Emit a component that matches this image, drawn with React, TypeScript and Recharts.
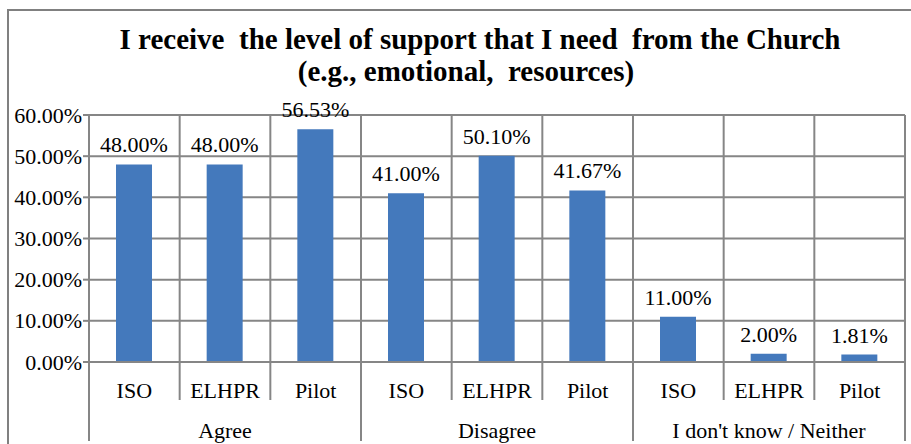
import React from "react";
import { BarChart, Bar, XAxis, YAxis, CartesianGrid, LabelList } from "recharts";

const groups = ["Agree", "Disagree", "I don't know / Neither"];
const sources = ["ISO", "ELHPR", "Pilot"];
const agreeValues = [48.0, 48.0, 56.53];
const disagreeValues = [41.0, 50.1, 41.67];
const neitherValues = [11.0, 2.0, 1.81];
const yTicks = [0, 10, 20, 30, 40, 50, 60];

const groupValues = [agreeValues, disagreeValues, neitherValues];
const data = groups.flatMap((g, gi) =>
  sources.map((s, si) => ({ key: `${g}-${s}`, source: s, group: g, value: groupValues[gi][si], gi, si }))
);

const W = 911;
const H = 444;
const MARGIN = { top: 115, right: 6, left: 0, bottom: 0 };
const Y_AXIS_W = 89;
const X_AXIS_H = 82;
const PLOT_W = W - MARGIN.left - MARGIN.right - Y_AXIS_W;
const BAND = PLOT_W / data.length;

const GRID = "#868686";
const FONT = "Liberation Serif";
const TXT = { fontFamily: FONT, fontSize: 22, fill: "#000" };

const CategoryTick = (props: any) => {
  const { x, y, index } = props;
  const d = data[index];
  if (!d) return null;
  const left = x - BAND / 2;
  const right = x + BAND / 2;
  const isGroupStart = d.si === 0;
  const isLast = index === data.length - 1;
  return (
    <g>
      <line x1={left} y1={y} x2={left} y2={isGroupStart ? y + 79 : y + 38} stroke={GRID} strokeWidth={2} />
      {isLast && <line x1={right} y1={y} x2={right} y2={y + 79} stroke={GRID} strokeWidth={2} />}
      <text x={x} y={y + 28} textAnchor="middle" dominantBaseline="central" style={TXT}>
        {d.source}
      </text>
      {d.si === 1 && (
        <text x={x} y={y + 68} textAnchor="middle" dominantBaseline="central" style={TXT}>
          {d.group}
        </text>
      )}
    </g>
  );
};

const YTick = (props: any) => {
  const { x, y, payload } = props;
  return (
    <text x={x} y={y} textAnchor="end" dominantBaseline="central" style={TXT}>
      {`${Number(payload.value).toFixed(2)}%`}
    </text>
  );
};

const ValueLabel = (props: any) => {
  const { x, y, width, value } = props;
  return (
    <text x={x + width / 2} y={y - 12} textAnchor="middle" style={TXT}>
      {`${Number(value).toFixed(2)}%`}
    </text>
  );
};

export default function App() {
  return (
    <div style={{ position: "absolute", left: 0, top: 0, width: W, height: H, background: "#fff", overflow: "hidden" }}>
      <div
        style={{
          position: "absolute",
          left: 7,
          top: 9,
          width: W + 20,
          height: H + 20,
          border: "2px solid #808080",
          boxSizing: "border-box",
        }}
      />
      <div
        style={{
          position: "absolute",
          left: 0,
          top: 23,
          width: 960,
          textAlign: "center",
          fontFamily: FONT,
          fontWeight: "bold",
          fontSize: 29,
          lineHeight: "32px",
          color: "#000",
        }}
      >
        <div>I receive&nbsp; the level of support that I need&nbsp; from the Church</div>
        <div style={{ paddingRight: 28 }}>(e.g., emotional,&nbsp; resources)</div>
      </div>
      <div style={{ position: "absolute", left: 0, top: 0 }}>
        <BarChart width={W} height={H} data={data} margin={MARGIN} barCategoryGap={0}>
          <CartesianGrid
            stroke={GRID}
            strokeWidth={2}
            verticalCoordinatesGenerator={({ offset }: any) =>
              Array.from({ length: data.length + 1 }, (_, i) => offset.left + (i * offset.width) / data.length)
            }
          />
          <XAxis
            dataKey="key"
            interval={0}
            height={X_AXIS_H}
            tickSize={0}
            tickMargin={0}
            axisLine={{ stroke: GRID, strokeWidth: 2 }}
            tickLine={false}
            tick={<CategoryTick />}
          />
          <YAxis
            domain={[0, 60]}
            ticks={yTicks}
            width={Y_AXIS_W}
            tickSize={6}
            tickMargin={1}
            axisLine={{ stroke: GRID, strokeWidth: 2 }}
            tickLine={{ stroke: GRID, strokeWidth: 2 }}
            tick={<YTick />}
          />
          <Bar dataKey="value" fill="#4479bc" barSize={36} isAnimationActive={false}>
            <LabelList dataKey="value" content={<ValueLabel />} />
          </Bar>
        </BarChart>
      </div>
    </div>
  );
}
